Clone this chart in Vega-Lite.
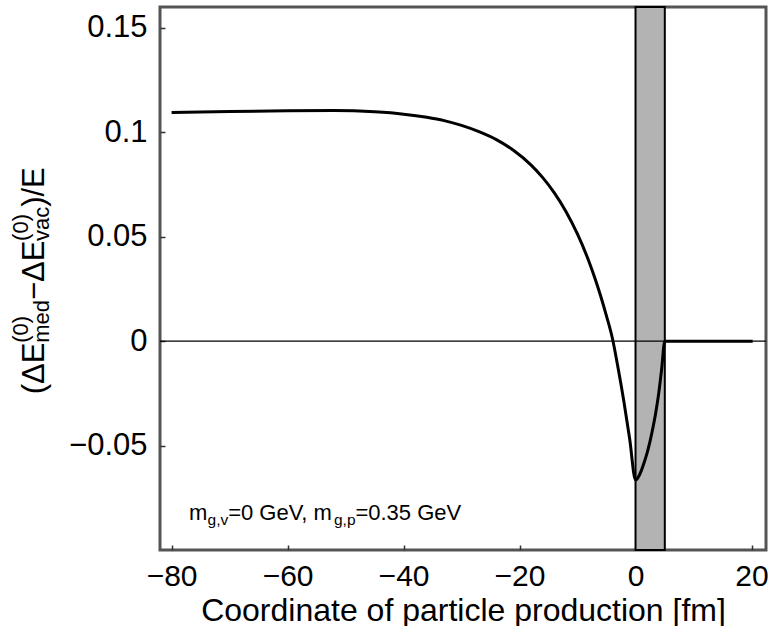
{
  "$schema": "https://vega.github.io/schema/vega-lite/v6.json",
  "width": 606,
  "height": 543,
  "autosize": {"type": "none"},
  "padding": {"left": 160, "top": 7, "right": 4, "bottom": 76},
  "background": "white",
  "config": {
    "font": "Liberation Sans",
    "view": {"stroke": "#555555", "strokeWidth": 3},
    "axis": {
      "domain": false,
      "grid": false,
      "labelFont": "Liberation Sans",
      "titleFont": "Liberation Sans",
      "labelColor": "black",
      "titleColor": "black",
      "tickColor": "#333333",
      "tickWidth": 1.5
    }
  },
  "datasets": {
    "curve": [
      {"x": -80, "y": 0.1095}, {"x": -70, "y": 0.11}, {"x": -60, "y": 0.1103}, {"x": -52, "y": 0.1104},
      {"x": -45, "y": 0.1098}, {"x": -40, "y": 0.1087}, {"x": -36, "y": 0.1072}, {"x": -33, "y": 0.1056},
      {"x": -30, "y": 0.1033}, {"x": -27, "y": 0.1003}, {"x": -24, "y": 0.0965}, {"x": -21, "y": 0.0913},
      {"x": -18, "y": 0.0843}, {"x": -16, "y": 0.0783}, {"x": -14, "y": 0.071}, {"x": -12, "y": 0.0621},
      {"x": -10, "y": 0.0512}, {"x": -8, "y": 0.0379}, {"x": -7, "y": 0.0301}, {"x": -6, "y": 0.0215},
      {"x": -5, "y": 0.012}, {"x": -4, "y": 0.0015},
      {"x": -3, "y": -0.013}, {"x": -2, "y": -0.029}, {"x": -1, "y": -0.047}, {"x": 0, "y": -0.0665},
      {"x": 0.5, "y": -0.065}, {"x": 1, "y": -0.062}, {"x": 1.5, "y": -0.058}, {"x": 2, "y": -0.0535},
      {"x": 2.5, "y": -0.048}, {"x": 3, "y": -0.0415}, {"x": 3.5, "y": -0.034}, {"x": 4, "y": -0.025},
      {"x": 4.5, "y": -0.0135}, {"x": 5.05, "y": 0}, {"x": 10, "y": 0}, {"x": 15, "y": 0}, {"x": 20.2, "y": 0}
    ],
    "band": [{"x": 0, "xend": 5.05}],
    "zero": [{"y": 0}],
    "note": [
      {"x": -77.0, "y": -0.0855, "text": "m", "role": "main"},
      {"x": -73.8, "y": -0.0855, "text": "g,v", "role": "sub"},
      {"x": -70.25, "y": -0.0855, "text": "=0 GeV, m", "role": "main"},
      {"x": -52.0, "y": -0.0855, "text": "g,p", "role": "sub"},
      {"x": -48.3, "y": -0.0855, "text": "=0.35 GeV", "role": "main"}
    ],
    "ytitle": [
      {"x": -102.0, "y": -0.0254, "text": "(ΔE", "role": "main"},
      {"x": -104.7, "y": -0.00076, "text": "(0)", "role": "sup"},
      {"x": -101.2, "y": -0.00076, "text": "med", "role": "sub"},
      {"x": -102.0, "y": 0.01965, "text": "−ΔE", "role": "main"},
      {"x": -104.7, "y": 0.048, "text": "(0)", "role": "sup"},
      {"x": -101.2, "y": 0.048, "text": "vac", "role": "sub"},
      {"x": -102.0, "y": 0.0643, "text": ")/E", "role": "main"}
    ]
  },
  "layer": [
    {
      "data": {"name": "curve"},
      "mark": {"type": "line", "color": "black", "strokeWidth": 3, "interpolate": "monotone", "opacity": 0},
      "encoding": {
        "x": {
          "field": "x", "type": "quantitative",
          "scale": {"domain": [-82, 22.5], "nice": false, "zero": false},
          "axis": {
            "title": "Coordinate of particle production [fm]",
            "titleFontSize": 32, "titleFontWeight": "normal", "titlePadding": 4,
            "labelFontSize": 30, "labelPadding": 16, "tickSize": -5,
            "values": [-80, -60, -40, -20, 0, 20], "format": "d"
          }
        },
        "y": {
          "field": "y", "type": "quantitative",
          "scale": {"domain": [-0.1, 0.16], "nice": false, "zero": false},
          "axis": {
            "title": null,
            "labelFontSize": 31, "labelPadding": 18, "tickSize": -5,
            "values": [-0.05, 0, 0.05, 0.1, 0.15], "format": ".2~f"
          }
        }
      }
    },
    {
      "data": {"name": "band"},
      "mark": {"type": "rect", "fill": "#b3b3b3", "stroke": "black", "strokeWidth": 2},
      "encoding": {
        "x": {"field": "x", "type": "quantitative"},
        "x2": {"field": "xend"}
      }
    },
    {
      "data": {"name": "zero"},
      "mark": {"type": "rule", "color": "black", "strokeWidth": 1.3},
      "encoding": {
        "y": {"field": "y", "type": "quantitative"}
      }
    },
    {
      "data": {"name": "curve"},
      "mark": {"type": "line", "color": "black", "strokeWidth": 3, "interpolate": "monotone"},
      "encoding": {
        "x": {"field": "x", "type": "quantitative"},
        "y": {"field": "y", "type": "quantitative"}
      }
    },
    {
      "data": {"name": "note"},
      "transform": [{"filter": "datum.role === 'main'"}],
      "mark": {"type": "text", "fontSize": 22, "align": "left", "baseline": "alphabetic", "color": "black"},
      "encoding": {
        "x": {"field": "x", "type": "quantitative"},
        "y": {"field": "y", "type": "quantitative"},
        "text": {"field": "text"}
      }
    },
    {
      "data": {"name": "note"},
      "transform": [{"filter": "datum.role === 'sub'"}],
      "mark": {"type": "text", "fontSize": 15.5, "align": "left", "baseline": "alphabetic", "dy": 5, "color": "black"},
      "encoding": {
        "x": {"field": "x", "type": "quantitative"},
        "y": {"field": "y", "type": "quantitative"},
        "text": {"field": "text"}
      }
    },
    {
      "data": {"name": "ytitle"},
      "transform": [{"filter": "datum.role === 'main'"}],
      "mark": {"type": "text", "fontSize": 31, "angle": 270, "align": "left", "baseline": "alphabetic", "color": "black", "clip": false},
      "encoding": {
        "x": {"field": "x", "type": "quantitative"},
        "y": {"field": "y", "type": "quantitative"},
        "text": {"field": "text"}
      }
    },
    {
      "data": {"name": "ytitle"},
      "transform": [{"filter": "datum.role !== 'main'"}],
      "mark": {"type": "text", "fontSize": 22, "angle": 270, "align": "left", "baseline": "alphabetic", "color": "black", "clip": false},
      "encoding": {
        "x": {"field": "x", "type": "quantitative"},
        "y": {"field": "y", "type": "quantitative"},
        "text": {"field": "text"}
      }
    }
  ]
}
